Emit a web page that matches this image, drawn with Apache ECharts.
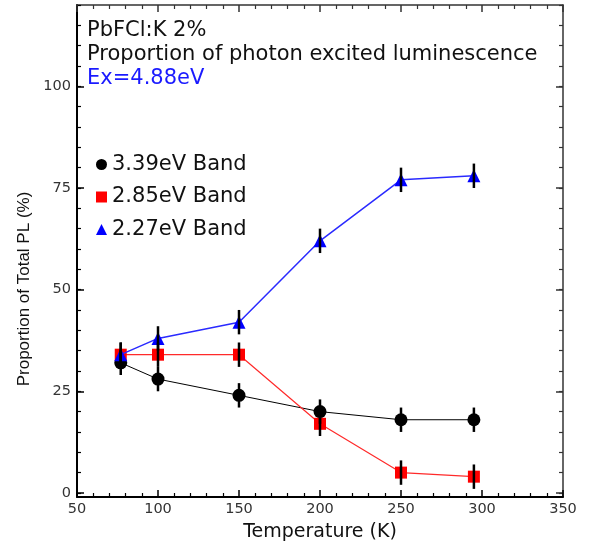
<!DOCTYPE html>
<html>
<head>
<meta charset="utf-8">
<script src="https://cdn.jsdelivr.net/npm/echarts@6/dist/echarts.min.js"></script>
<style>
  html, body { margin: 0; padding: 0; background: #fff; }
  #chart { width: 598px; height: 552px; }
</style>
</head>
<body>
<div id="chart"></div>
<script>
// Measurement temperatures (K)
const temperatures = [77, 100, 150, 200, 250, 295];

// Share of total PL (%) for each emission band
const band339 = [32, 28, 24, 20, 18, 18];
const band285 = [34, 34, 34, 17, 5, 4];
const band227 = [34, 38, 42, 62, 77, 78];

// Error bar half-widths (%)
const err339 = [3, 3, 3, 3, 3, 3];
const err285 = [3, 3, 3, 3, 3, 3];
const err227 = [3, 3, 3, 3, 3, 3];

const seriesNames = ['3.39eV Band', '2.85eV Band', '2.27eV Band'];

// Tick positions on the y axis
const yMajorTicks = [0, 25, 50, 75, 100];
const yMinorTicks = [0, 5, 10, 15, 20, 25, 30, 35, 40, 45, 50, 55, 60, 65, 70, 75, 80, 85, 90, 95, 100, 105, 110, 115, 120];

// Annotation text
const titleLines = ['PbFCl:K 2%', 'Proportion of photon excited luminescence'];
const excitationText = 'Ex=4.88eV';
const xAxisTitle = 'Temperature (K)';
const yAxisTitle = 'Proportion of Total PL (%)';

const WIDE_FONT = '"DejaVu Sans", "Liberation Sans", sans-serif';
const PLAIN_FONT = '"Liberation Sans", Arial, sans-serif';

const chart = echarts.init(document.getElementById('chart'), null, { renderer: 'canvas' });

function pairs(values) {
  return temperatures.map((t, i) => [t, values[i]]);
}
function triples(values, errs) {
  return temperatures.map((t, i) => [t, values[i], errs[i]]);
}

function errorBarSeries(values, errs) {
  return {
    type: 'custom',
    xAxisIndex: 0,
    yAxisIndex: 0,
    z: 10,
    silent: true,
    encode: { x: 0, y: 1 },
    data: triples(values, errs),
    renderItem: function (params, api) {
      const x = api.value(0);
      const y = api.value(1);
      const e = api.value(2);
      const top = api.coord([x, y + e]);
      const bottom = api.coord([x, y - e]);
      return {
        type: 'line',
        shape: { x1: top[0], y1: top[1], x2: bottom[0], y2: bottom[1] },
        style: { stroke: '#000', lineWidth: 2.5 }
      };
    }
  };
}

const tickLabelStyle = { fontFamily: WIDE_FONT, fontSize: 14.5, color: '#333' };

const option = {
  animation: false,
  backgroundColor: '#fff',
  grid: [
    { left: 77, right: 35, top: 5, bottom: 55 },
    { left: 77, right: 35, top: 5, bottom: 55 }
  ],
  xAxis: [
    {
      gridIndex: 0, type: 'value', position: 'bottom',
      min: 50, max: 350, interval: 50,
      axisLine: { show: true, onZero: false, lineStyle: { color: '#000', width: 2 } },
      axisTick: { show: true, inside: true, length: 7, lineStyle: { color: '#000', width: 1.5 } },
      minorTick: { show: true, splitNumber: 5, length: 4, lineStyle: { color: '#000', width: 1.2 } },
      axisLabel: Object.assign({ margin: 5 }, tickLabelStyle),
      splitLine: { show: false },
      name: xAxisTitle, nameLocation: 'middle', nameGap: 26,
      nameTextStyle: { fontFamily: WIDE_FONT, fontSize: 19, color: '#111' }
    },
    {
      gridIndex: 0, type: 'value', position: 'top',
      min: 50, max: 350, interval: 50,
      axisLine: { show: true, onZero: false, lineStyle: { color: '#333', width: 1.5 } },
      axisTick: { show: true, inside: true, length: 7, lineStyle: { color: '#333', width: 1.5 } },
      minorTick: { show: true, splitNumber: 5, length: 4, lineStyle: { color: '#333', width: 1.2 } },
      axisLabel: { show: false },
      splitLine: { show: false }
    },
    {
      gridIndex: 1, type: 'value', show: false, min: 50, max: 350
    }
  ],
  yAxis: [
    {
      gridIndex: 0, type: 'value', position: 'left',
      min: -1, max: 120,
      axisLine: { show: true, onZero: false, lineStyle: { color: '#000', width: 2 } },
      axisTick: { show: true, inside: true, length: 7, customValues: yMajorTicks, lineStyle: { color: '#000', width: 1.5 } },
      axisLabel: Object.assign({ margin: 6, customValues: yMajorTicks }, tickLabelStyle),
      splitLine: { show: false },
      name: yAxisTitle, nameLocation: 'middle', nameGap: 40, nameRotate: 90,
      nameTextStyle: { fontFamily: PLAIN_FONT, fontSize: 17, color: '#111', padding: [0, 76, 0, 0] }
    },
    {
      gridIndex: 0, type: 'value', position: 'right',
      min: -1, max: 120,
      axisLine: { show: true, onZero: false, lineStyle: { color: '#333', width: 1.5 } },
      axisTick: { show: true, inside: true, length: 7, customValues: yMajorTicks, lineStyle: { color: '#333', width: 1.5 } },
      axisLabel: { show: false },
      splitLine: { show: false }
    },
    {
      gridIndex: 1, type: 'value', position: 'left',
      min: -1, max: 120,
      axisLine: { show: false, onZero: false },
      axisTick: { show: true, inside: true, length: 4, customValues: yMinorTicks, lineStyle: { color: '#000', width: 1.2 } },
      axisLabel: { show: false },
      splitLine: { show: false }
    },
    {
      gridIndex: 1, type: 'value', position: 'right',
      min: -1, max: 120,
      axisLine: { show: false, onZero: false },
      axisTick: { show: true, inside: true, length: 4, customValues: yMinorTicks, lineStyle: { color: '#333', width: 1.2 } },
      axisLabel: { show: false },
      splitLine: { show: false }
    }
  ],
  legend: {
    orient: 'vertical',
    left: 96, top: 153.5,
    padding: 0,
    itemWidth: 11, itemHeight: 11, itemGap: 10.5,
    textStyle: { fontFamily: WIDE_FONT, fontSize: 21, color: '#111', lineHeight: 22 },
    data: [
      { name: seriesNames[0], icon: 'circle' },
      { name: seriesNames[1], icon: 'rect' },
      { name: seriesNames[2], icon: 'triangle' }
    ]
  },
  graphic: [
    { type: 'text', x: 87, y: 30.5, style: { text: titleLines[0], fontFamily: WIDE_FONT, fontSize: 21, fill: '#111', verticalAlign: 'middle' } },
    { type: 'text', x: 87, y: 54.3, style: { text: titleLines[1], fontFamily: WIDE_FONT, fontSize: 21, fill: '#111', verticalAlign: 'middle' } },
    { type: 'text', x: 87, y: 78.3, style: { text: excitationText, fontFamily: WIDE_FONT, fontSize: 21, fill: '#1a1aff', verticalAlign: 'middle' } }
  ],
  series: [
    {
      name: seriesNames[0], type: 'line', xAxisIndex: 0, yAxisIndex: 0,
      data: pairs(band339), symbol: 'circle', symbolSize: 13,
      itemStyle: { color: '#000' }, lineStyle: { color: '#000', width: 1 }, z: 2
    },
    {
      name: seriesNames[1], type: 'line', xAxisIndex: 0, yAxisIndex: 0,
      data: pairs(band285), symbol: 'rect', symbolSize: 12,
      itemStyle: { color: '#ff0000' }, lineStyle: { color: '#ff2a2a', width: 1.2 }, z: 3
    },
    {
      name: seriesNames[2], type: 'line', xAxisIndex: 0, yAxisIndex: 0,
      data: pairs(band227), symbol: 'triangle', symbolSize: 13,
      itemStyle: { color: '#0000ff' }, lineStyle: { color: '#2a2aff', width: 1.5 }, z: 4
    },
    errorBarSeries(band339, err339),
    errorBarSeries(band285, err285),
    errorBarSeries(band227, err227)
  ]
};

chart.setOption(option);
</script>
</body>
</html>
